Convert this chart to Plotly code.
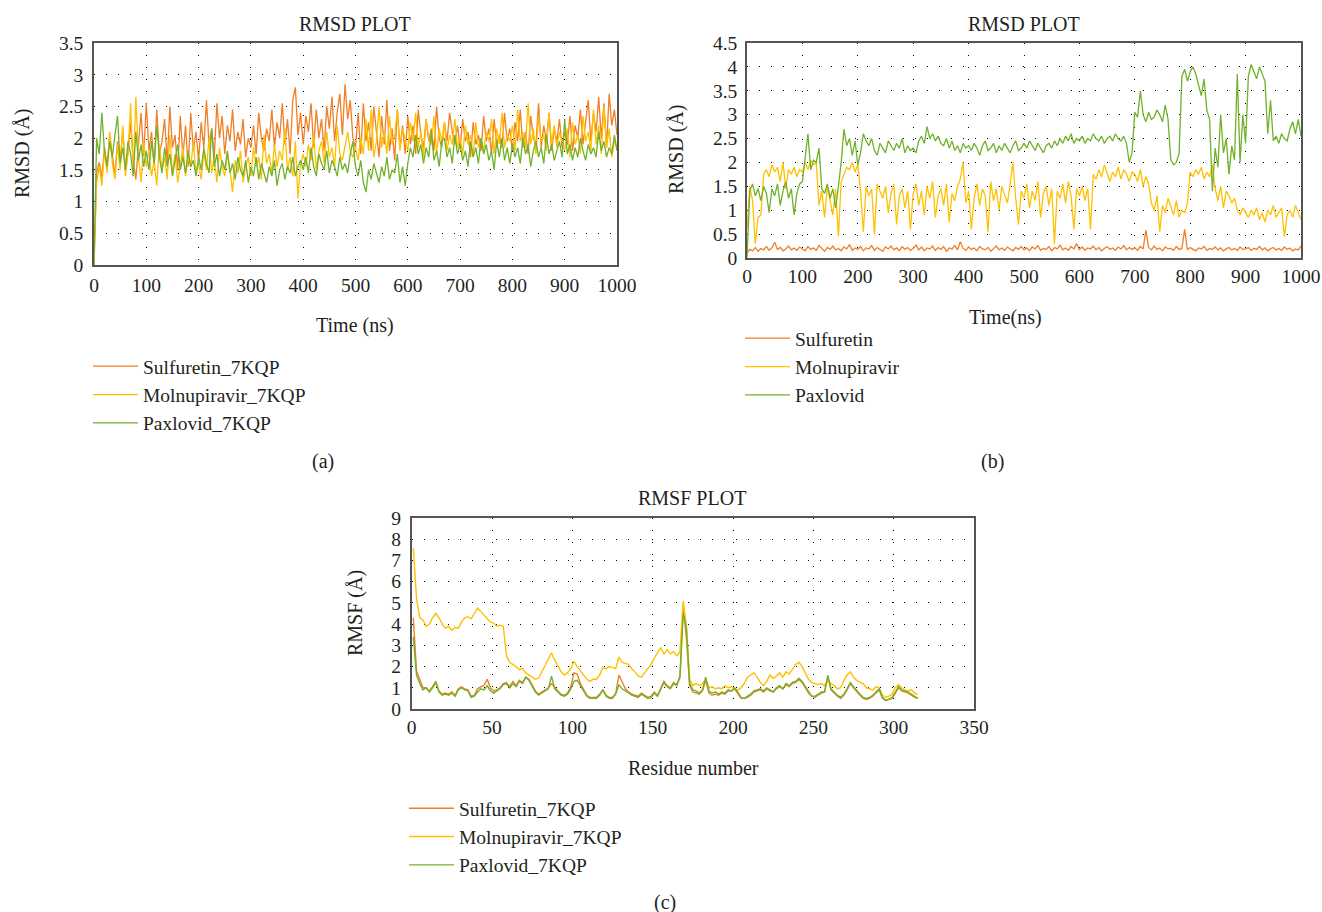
import plotly.graph_objects as go

# ---------------- data ----------------
time_ns = list(range(0, 1001, 5))

# (a) RMSD vs 7KQP
rmsd_a_sulfuretin = [
    0.00, 1.45, 1.62, 1.38, 1.85, 1.55, 2.05, 1.70, 1.42, 1.95, 1.60, 2.15, 1.48, 1.78, 2.25, 1.65, 1.35, 1.90, 2.40, 1.72,
    2.55, 1.80, 2.10, 1.55, 2.45, 1.75, 1.95, 2.30, 1.60, 2.50, 1.85, 2.05, 1.50, 2.35, 1.70, 2.20, 1.55, 2.40, 1.80, 2.10,
    1.65, 2.25, 1.85, 2.60, 1.90, 2.15, 1.70, 2.55, 2.00, 2.35, 1.75, 2.20, 1.95, 2.45, 1.80, 2.10, 1.90, 2.30, 1.70, 2.00,
    1.85, 2.20, 1.75, 2.40, 2.00, 1.80, 2.15, 1.95, 2.45, 1.85, 2.25, 2.00, 2.55, 1.90, 2.30, 1.75, 2.60, 2.80, 2.05, 2.40,
    1.90, 2.35, 2.10, 2.55, 1.85, 2.45, 2.00, 2.30, 1.80, 2.50, 2.15, 2.65, 1.95, 2.40, 2.70, 2.05, 2.85, 2.30, 2.60, 2.00,
    1.85, 2.40, 1.75, 2.55, 1.95, 2.25, 1.80, 2.50, 2.05, 1.70, 2.35, 1.90, 2.60, 1.80, 2.15, 1.65, 2.45, 1.85, 2.20, 1.75,
    2.35, 1.90, 2.20, 1.75, 2.45, 2.05, 1.85, 2.30, 1.95, 2.15, 1.80, 2.50, 2.00, 1.85, 2.25, 1.95, 2.40, 2.10, 1.90, 2.20,
    1.85, 2.30, 1.95, 2.10, 1.70, 2.25, 1.90, 2.05, 1.80, 2.35, 1.95, 2.15, 1.75, 2.30, 1.90, 2.05, 1.85, 2.40, 1.95, 2.15,
    1.80, 2.25, 1.95, 2.45, 1.85, 2.10, 1.75, 2.35, 2.00, 1.90, 2.55, 1.85, 2.20, 1.95, 2.40, 1.80, 2.15, 1.95, 2.30, 1.85,
    2.10, 1.90, 2.35, 1.80, 2.20, 2.00, 2.45, 1.90, 2.25, 2.60, 1.95, 2.40, 2.10, 2.65, 2.00, 2.55, 1.85, 2.70, 2.20, 2.45,
    2.05,
]
rmsd_a_molnupiravir = [
    0.00, 1.30, 1.55, 1.25, 1.80, 1.45, 2.10, 1.60, 1.35, 1.90, 1.50, 2.20, 1.40, 1.75, 2.55, 1.45, 2.65, 1.70, 1.30, 1.95,
    1.55, 1.80, 1.40, 1.65, 1.25, 1.90, 1.50, 1.70, 1.35, 2.05, 1.45, 1.75, 1.30, 1.60, 1.85, 1.40, 1.70, 1.55, 1.95, 1.45,
    1.60, 1.35, 1.80, 1.50, 2.00, 1.45, 1.70, 1.30, 1.85, 1.55, 1.40, 1.75, 1.50, 1.15, 1.65, 1.45, 1.80, 1.30, 1.55, 1.70,
    1.40, 1.85, 1.55, 1.70, 1.35, 2.05, 1.60, 1.75, 1.45, 1.90, 1.55, 1.80, 1.65, 2.15, 1.50, 1.70, 1.40, 1.95, 1.05, 1.60,
    1.75, 1.55, 1.90, 1.65, 2.05, 1.50, 1.80, 1.95, 1.60, 2.10, 1.70, 1.85, 1.55, 2.20, 1.75, 1.65, 1.90, 2.10, 1.80, 1.70,
    1.85, 1.65, 2.00, 1.75, 2.30, 1.80, 2.45, 1.70, 1.95, 2.50, 1.85, 2.10, 1.75, 2.35, 1.90, 2.05, 2.45, 1.80, 2.15, 1.95,
    1.80, 2.25, 1.95, 2.40, 1.85, 2.10, 1.70, 2.30, 2.00, 1.90, 2.35, 1.75, 2.15, 1.95, 2.25, 1.80, 2.05, 1.90, 2.30, 1.85,
    2.00, 1.75, 2.20, 1.90, 2.05, 1.70, 2.25, 1.85, 2.00, 1.80, 2.10, 1.95, 2.30, 1.75, 2.15, 1.90, 2.40, 1.85, 2.05, 1.95,
    2.20, 1.80, 2.45, 1.95, 2.10, 1.85, 2.55, 1.90, 2.15, 1.75, 2.35, 1.95, 2.05, 1.80, 2.40, 1.90, 2.20, 1.85, 2.10, 1.95,
    1.80, 2.15, 1.70, 2.25, 1.90, 2.05, 1.75, 2.35, 1.95, 2.10, 1.80, 2.45, 1.90, 2.20, 1.75, 2.50, 1.85, 2.15, 1.70, 1.95,
    1.85,
]
rmsd_a_paxlovid = [
    0.00, 2.00, 1.75, 2.40, 1.80, 1.55, 1.95, 1.70, 2.05, 2.35, 1.60, 1.85, 1.50, 1.95, 1.75, 1.40, 2.10, 1.65, 1.90, 1.55,
    1.80, 1.50, 1.95, 1.60, 2.20, 1.70, 1.45, 1.85, 1.55, 1.75, 1.40, 1.65, 1.90, 1.50, 1.70, 1.45, 1.80, 1.55, 1.65, 1.40,
    1.70, 1.50, 1.85, 1.60, 1.45, 2.15, 1.55, 1.75, 1.40, 1.65, 1.50, 1.80, 1.45, 1.60, 1.35, 1.70, 1.50, 1.40, 1.65, 1.30,
    1.55, 1.40, 1.70, 1.35, 1.60, 1.45, 1.30, 1.55, 1.40, 1.65, 1.25, 1.50, 1.60, 1.35, 1.55, 1.45, 1.70, 1.40, 1.55, 1.65,
    1.50, 1.70, 1.45, 1.85, 1.55, 1.40, 1.75, 1.60, 1.50, 1.80, 1.45, 1.65, 1.55, 1.40, 1.70, 1.50, 1.60, 1.45, 1.75, 1.95,
    1.55, 1.40, 1.65, 1.30, 1.15, 1.50, 1.35, 1.60, 1.45, 1.30, 1.55, 1.40, 1.70, 1.35, 1.50, 1.45, 1.75, 1.30, 1.55, 1.25,
    1.60, 1.85, 1.70, 2.05, 1.75, 1.90, 1.60, 1.85, 1.70, 2.10, 1.65, 1.80, 1.55, 1.95, 2.00, 1.70, 1.85, 1.60, 2.05, 1.75,
    1.90, 1.65, 1.80, 1.55, 1.95, 1.70, 1.85, 1.60, 2.00, 1.75, 1.90, 1.65, 1.80, 1.50, 1.95, 1.70, 2.00, 1.65, 1.85, 1.60,
    1.90, 1.70, 1.85, 1.60, 2.00, 1.75, 1.90, 1.55, 1.80, 1.95, 1.70, 1.85, 1.60, 2.05, 1.75, 1.90, 1.65, 1.80, 1.95, 1.70,
    2.30, 1.75, 1.90, 1.65, 1.85, 1.70, 2.00, 1.80, 1.65, 1.90, 1.75, 1.85, 1.70, 2.10, 1.80, 1.95, 1.70, 1.85, 1.75, 2.05,
    1.80,
]

# (b) RMSD
rmsd_b_sulfuretin = [
    0.10, 0.18, 0.15, 0.22, 0.14, 0.20, 0.17, 0.24, 0.16, 0.21, 0.33, 0.18, 0.22, 0.15, 0.19, 0.25, 0.17, 0.21, 0.16, 0.23,
    0.19, 0.15, 0.24, 0.18, 0.21, 0.16, 0.26, 0.19, 0.14, 0.22, 0.18, 0.25, 0.17, 0.20, 0.15, 0.23, 0.19, 0.28, 0.16, 0.21,
    0.18, 0.24, 0.15, 0.21, 0.19, 0.26, 0.16, 0.22, 0.18, 0.14, 0.23, 0.19, 0.25, 0.17, 0.21, 0.15, 0.24, 0.18, 0.22, 0.16,
    0.20, 0.27, 0.17, 0.23, 0.15, 0.21, 0.19, 0.25, 0.16, 0.22, 0.18, 0.24, 0.14, 0.21, 0.19, 0.26, 0.17, 0.34, 0.20, 0.16,
    0.23, 0.18, 0.21, 0.15, 0.24, 0.19, 0.17, 0.22, 0.14, 0.20, 0.25, 0.17, 0.21, 0.16, 0.23, 0.19, 0.15, 0.22, 0.18, 0.24,
    0.17, 0.21, 0.15, 0.23, 0.19, 0.26, 0.16, 0.20, 0.18, 0.24, 0.15, 0.22, 0.19, 0.27, 0.17, 0.21, 0.16, 0.24, 0.19, 0.30,
    0.18, 0.23, 0.16, 0.21, 0.19, 0.25, 0.17, 0.22, 0.15, 0.20, 0.24, 0.18, 0.21, 0.16, 0.23, 0.19, 0.26, 0.17, 0.22, 0.18,
    0.21, 0.16, 0.24, 0.19, 0.58, 0.22, 0.17, 0.25, 0.18, 0.21, 0.15, 0.23, 0.19, 0.20, 0.16, 0.24, 0.18, 0.20, 0.60, 0.17,
    0.22, 0.18, 0.15, 0.21, 0.19, 0.24, 0.16, 0.20, 0.18, 0.23, 0.17, 0.21, 0.15, 0.19, 0.22, 0.17, 0.20, 0.16, 0.23, 0.18,
    0.19, 0.22, 0.16, 0.20, 0.18, 0.24, 0.17, 0.21, 0.15, 0.19, 0.22, 0.17, 0.20, 0.16, 0.23, 0.18, 0.21, 0.15, 0.19, 0.17,
    0.25,
]
rmsd_b_molnupiravir = [
    0.60, 1.50, 1.20, 0.30, 0.85, 0.90, 1.75, 1.85, 1.70, 1.95, 1.80, 1.90, 1.60, 2.00, 1.45, 1.85, 1.75, 1.90, 1.70, 1.85,
    1.80, 2.00, 1.85, 2.05, 1.95, 2.00, 1.10, 1.40, 0.85, 1.50, 1.20, 0.90, 1.45, 0.45, 1.60, 1.75, 1.90, 1.85, 2.00, 1.80,
    1.95, 1.40, 0.55, 1.50, 1.30, 1.45, 0.50, 1.55, 1.40, 1.25, 1.50, 0.95, 1.35, 1.55, 0.70, 1.30, 1.45, 1.05, 1.40, 0.60,
    1.35, 1.55, 1.10, 1.40, 0.90, 1.50, 1.25, 1.60, 0.85, 1.30, 1.45, 1.10, 1.55, 0.75, 1.35, 1.20, 1.50, 1.65, 2.00, 1.15,
    1.40, 0.60, 1.25, 1.55, 1.10, 1.45, 1.30, 0.55, 1.60, 1.20, 1.45, 1.00, 1.50, 1.30, 1.15, 1.55, 2.00, 1.25, 0.70, 1.40,
    1.25, 1.55, 1.05, 1.40, 1.20, 1.60, 0.85, 1.35, 1.50, 1.10, 1.45, 0.30, 1.40, 1.25, 1.55, 1.15, 1.60, 1.30, 0.60, 1.45,
    1.30, 1.50, 1.20, 1.45, 0.60, 1.75, 1.65, 1.85, 1.70, 1.95, 1.75, 1.60, 1.80, 1.70, 1.90, 1.65, 1.85, 1.75, 1.60, 1.80,
    1.75, 1.60, 1.85, 1.50, 1.70, 1.55, 1.15, 1.00, 1.30, 0.55, 1.10, 0.95, 1.25, 1.05, 0.90, 1.20, 0.85, 1.00, 0.95, 1.15,
    1.80, 1.70, 1.85, 1.75, 1.90, 1.65, 1.80, 1.70, 1.95, 1.45, 1.20, 1.50, 1.05, 1.40, 1.30, 1.15, 1.25, 1.00, 0.90, 1.05,
    0.95, 0.85, 1.00, 0.90, 1.05, 0.80, 0.95, 0.75, 1.00, 0.90, 1.10, 0.85, 0.95, 1.05, 0.45, 0.90, 1.00, 0.85, 1.10, 0.95,
    0.80,
]
rmsd_b_paxlovid = [
    0.00, 1.40, 1.55, 1.30, 1.45, 1.20, 1.50, 1.35, 0.95, 1.45, 1.30, 1.55, 1.10, 1.40, 1.60, 1.25, 1.45, 0.90, 1.35, 1.55,
    1.60, 2.10, 2.60, 1.85, 2.05, 2.00, 2.30, 1.45, 1.35, 1.55, 1.25, 1.45, 1.05, 1.50, 2.00, 2.70, 2.35, 2.50, 2.15, 2.45,
    1.95, 2.20, 2.60, 2.45, 2.35, 2.50, 2.25, 2.15, 2.40, 2.30, 2.20, 2.45, 2.35, 2.25, 2.40, 2.30, 2.50, 2.20, 2.35, 2.25,
    2.30, 2.20, 2.45, 2.55, 2.40, 2.75, 2.50, 2.60, 2.45, 2.55, 2.40, 2.35, 2.50, 2.30, 2.45, 2.25, 2.35, 2.20, 2.40, 2.30,
    2.35, 2.25, 2.40, 2.30, 2.15, 2.35, 2.45, 2.25, 2.30, 2.40, 2.20, 2.35, 2.25, 2.40, 2.30, 2.20, 2.35, 2.45, 2.25, 2.30,
    2.40, 2.30, 2.45, 2.35, 2.25, 2.40, 2.30, 2.20, 2.35, 2.40, 2.30, 2.45, 2.35, 2.50, 2.40, 2.55, 2.45, 2.60, 2.40, 2.50,
    2.45, 2.55, 2.40, 2.50, 2.45, 2.60, 2.50, 2.45, 2.55, 2.40, 2.50, 2.55, 2.45, 2.60, 2.50, 2.45, 2.55, 2.40, 2.00, 2.20,
    3.05, 2.95, 3.50, 3.00, 2.85, 3.05, 2.90, 2.95, 3.10, 3.00, 2.85, 3.20, 2.90, 2.05, 1.95, 2.00, 2.20, 3.80, 3.95, 3.70,
    3.90, 4.00, 3.85, 3.60, 3.40, 3.75, 3.10, 2.90, 1.40, 2.30, 1.90, 3.00, 2.20, 2.50, 1.75, 2.35, 2.05, 3.85, 2.00, 3.00,
    2.40, 3.80, 4.05, 3.90, 3.75, 4.00, 3.85, 3.70, 2.60, 3.30, 2.45, 2.55, 2.40, 2.60, 2.50, 2.45, 2.70, 2.85, 2.60, 2.90,
    2.55,
]

# (c) RMSF (odd residues 1..315)
residue = list(range(1, 316, 2))
rmsf_sulfuretin = [
    4.3, 1.8, 1.4, 1.0, 1.0, 0.85, 1.05, 1.3, 0.85, 0.7, 0.75, 0.7, 0.8, 0.65, 0.95, 1.05, 0.95, 0.9, 0.6, 0.65,
    0.95, 1.05, 1.1, 1.4, 1.0, 0.85, 0.9, 1.0, 1.2, 1.25, 1.05, 1.3, 1.1, 1.35, 1.25, 1.5, 1.4, 1.15, 0.85, 0.7,
    0.8, 0.9, 1.0, 1.2, 1.0, 0.85, 0.7, 0.65, 0.75, 1.05, 1.7, 1.65, 1.2, 0.9, 0.65, 0.55, 0.55, 0.55, 0.7, 0.9,
    0.65, 0.55, 0.55, 0.75, 1.6, 1.3, 0.95, 0.8, 0.7, 0.65, 0.6, 0.75, 0.65, 0.55, 0.6, 0.8, 0.65, 1.0, 1.3, 1.1,
    1.0, 1.25, 1.15, 1.55, 4.9, 3.3, 1.1, 0.8, 0.75, 0.7, 0.85, 1.35, 0.75, 0.65, 0.7, 0.65, 0.75, 0.7, 0.85, 0.85,
    0.95, 0.75, 0.5, 0.5, 0.55, 0.65, 0.8, 0.85, 0.9, 0.8, 0.95, 0.85, 0.8, 0.95, 1.05, 0.95, 1.15, 1.05, 1.2, 1.25,
    1.4, 1.25, 1.0, 0.75, 0.6, 0.55, 0.65, 0.75, 0.8, 1.5, 0.9, 0.75, 0.6, 0.5, 0.65, 0.9, 1.2, 1.0, 0.8, 0.65,
    0.5, 0.45, 0.5, 0.6, 0.75, 0.9, 0.5, 0.4, 0.45, 0.5, 0.75, 1.0, 0.85, 0.8, 0.75, 0.65, 0.55, 0.5,
]
rmsf_molnupiravir = [
    7.6, 5.2, 4.3, 4.2, 3.9, 4.0, 4.3, 4.5, 4.3, 4.0, 3.8, 3.9, 3.7, 3.85, 3.8, 4.1, 4.3, 4.35, 4.25, 4.5,
    4.75, 4.6, 4.4, 4.25, 4.1, 4.05, 3.9, 3.95, 3.9, 2.5, 2.2, 2.1, 2.0, 1.85, 1.9, 1.7, 1.6, 1.5, 1.4, 1.45,
    1.75, 2.0, 2.3, 2.65, 2.3, 2.0, 1.75, 1.6, 1.7, 1.9, 2.25, 2.0, 1.8, 1.55, 1.4, 1.3, 1.4, 1.4, 1.6, 1.95,
    1.9, 2.0, 1.95, 1.9, 2.45, 2.2, 2.15, 2.1, 1.9, 1.75, 1.55, 1.5, 1.7, 1.9, 2.1, 2.4, 2.65, 2.9, 2.6, 2.8,
    2.6, 2.7, 2.5, 2.7, 5.1, 3.9, 1.4, 1.1, 1.2, 1.1, 1.2, 1.4, 1.0, 1.05, 0.95, 1.0, 0.95, 1.1, 1.0, 1.05,
    0.95, 0.9, 1.0, 1.2, 1.5, 1.6, 1.7, 1.5, 1.25, 1.1, 1.3, 1.6, 1.45, 1.55, 1.7, 1.5, 1.75, 1.65, 1.9, 2.1,
    2.2, 2.0, 1.7, 1.4, 1.25, 1.2, 1.15, 1.2, 1.1, 1.4, 1.2, 1.1, 0.95, 1.0, 1.35, 1.6, 1.75, 1.5, 1.35, 1.25,
    1.2, 1.0, 0.95, 0.9, 1.05, 1.0, 0.65, 0.55, 0.6, 0.7, 1.0, 1.15, 1.0, 0.9, 0.85, 0.9, 0.75, 0.7,
]
rmsf_paxlovid = [
    3.4, 1.6, 1.2, 0.9, 1.0, 0.8, 1.0, 1.25, 0.8, 0.65, 0.7, 0.65, 0.75, 0.6, 0.9, 1.0, 0.9, 0.85, 0.55, 0.6,
    0.8, 0.95, 0.9, 1.1, 0.85, 0.75, 0.85, 0.95, 1.15, 1.2, 1.0, 1.2, 1.05, 1.3, 1.2, 1.5, 1.35, 1.1, 0.8, 0.65,
    0.75, 0.85, 0.95, 1.55, 0.95, 0.8, 0.65, 0.6, 0.7, 0.95, 1.3, 1.35, 1.1, 0.85, 0.6, 0.5, 0.5, 0.5, 0.65, 0.9,
    0.6, 0.5, 0.5, 0.7, 1.15, 0.95, 0.85, 0.75, 0.65, 0.6, 0.55, 0.7, 0.6, 0.5, 0.55, 0.75, 0.6, 0.95, 1.25, 1.05,
    0.95, 1.2, 1.1, 1.5, 4.5, 3.8, 1.2, 0.9, 0.85, 0.75, 0.9, 1.5, 0.85, 0.75, 0.8, 0.7, 0.8, 0.75, 0.9, 0.85,
    1.0, 0.8, 0.55, 0.5, 0.6, 0.7, 0.85, 0.9, 0.95, 0.85, 1.0, 0.9, 0.8, 1.0, 1.1, 0.95, 1.2, 1.1, 1.25, 1.3,
    1.45, 1.3, 1.05, 0.8, 0.6, 0.6, 0.7, 0.8, 0.8, 1.6, 0.95, 0.8, 0.65, 0.55, 0.7, 0.95, 1.25, 1.05, 0.85, 0.7,
    0.55, 0.5, 0.55, 0.65, 0.8, 0.95, 0.55, 0.4, 0.45, 0.55, 0.8, 1.05, 0.9, 0.85, 0.8, 0.7, 0.6, 0.5,
]

names_a = ["Sulfuretin_7KQP", "Molnupiravir_7KQP", "Paxlovid_7KQP"]
names_b = ["Sulfuretin", "Molnupiravir", "Paxlovid"]
names_c = ["Sulfuretin_7KQP", "Molnupiravir_7KQP", "Paxlovid_7KQP"]

# ---------------- style ----------------
W, H = 1322, 912
COLORS = ["#F07F26", "#FFC000", "#72B12A"]
FONT = "Liberation Serif"
TXT = "#231F20"


def px(x):
    return x / W


def py(y):
    return 1 - y / H


fig = go.Figure()

series_a = [rmsd_a_sulfuretin, rmsd_a_molnupiravir, rmsd_a_paxlovid]
series_b = [rmsd_b_sulfuretin, rmsd_b_molnupiravir, rmsd_b_paxlovid]
series_c = [rmsf_sulfuretin, rmsf_molnupiravir, rmsf_paxlovid]

for i, (nm, ys) in enumerate(zip(names_a, series_a)):
    fig.add_trace(go.Scatter(x=time_ns, y=ys, mode="lines", name=nm,
                             line=dict(color=COLORS[i], width=1.3),
                             xaxis="x", yaxis="y", legend="legend"))
for i, (nm, ys) in enumerate(zip(names_b, series_b)):
    fig.add_trace(go.Scatter(x=time_ns, y=ys, mode="lines", name=nm,
                             line=dict(color=COLORS[i], width=1.3),
                             xaxis="x2", yaxis="y2", legend="legend2"))
for i, (nm, ys) in enumerate(zip(names_c, series_c)):
    fig.add_trace(go.Scatter(x=residue, y=ys, mode="lines", name=nm,
                             line=dict(color=COLORS[i], width=1.4),
                             xaxis="x3", yaxis="y3", legend="legend3"))

tickfont = dict(family=FONT, size=19.5, color=TXT)
grid = dict(showgrid=True, gridcolor="#000000", gridwidth=1, griddash="1px,11px",
            showline=True, linecolor="#555555", linewidth=1.5, mirror=True,
            zeroline=False, tickfont=tickfont, ticks="outside",
            tickcolor="rgba(0,0,0,0)")

fig.update_layout(
    width=W, height=H, margin=dict(l=0, r=0, t=0, b=0, autoexpand=False),
    paper_bgcolor="white", plot_bgcolor="white",
    font=dict(family=FONT, size=19, color=TXT),
    xaxis=dict(domain=[px(94), px(617)], range=[0, 1000], dtick=100, anchor="y", ticklen=2, **grid),
    yaxis=dict(domain=[py(265), py(43)], range=[0, 3.5], dtick=0.5, anchor="x", ticklen=5, **grid),
    xaxis2=dict(domain=[px(747), px(1301)], range=[0, 1000], dtick=100, anchor="y2", ticklen=0, **grid),
    yaxis2=dict(domain=[py(258), py(43)], range=[0, 4.5], dtick=0.5, anchor="x2", ticklen=4, **grid),
    xaxis3=dict(domain=[px(411.7), px(974)], range=[0, 350], dtick=50, anchor="y3", ticklen=0, **grid),
    yaxis3=dict(domain=[py(709), py(518)], range=[0, 9], dtick=1, anchor="x3", ticklen=5, **grid),
)

leg_common = dict(xanchor="left", yanchor="top", bgcolor="rgba(0,0,0,0)",
                  font=dict(family=FONT, size=19.5, color=TXT),
                  itemwidth=45, traceorder="normal")
fig.update_layout(
    legend=dict(x=px(88), y=py(347), **leg_common),
    legend2=dict(x=px(740), y=py(319), **leg_common),
    legend3=dict(x=px(404), y=py(789), **leg_common),
)

annots = [
    ("RMSD PLOT", 355, 24, 0),
    ("RMSD PLOT", 1024, 24, 0),
    ("RMSF PLOT", 692, 498, 0),
    ("Time (ns)", 355, 325, 0),
    ("Time(ns)", 1005, 318, 0),
    ("Residue number", 693, 768, 0),
    ("RMSD (Å)", 22, 154, -90),
    ("RMSD (Å)", 676, 150, -90),
    ("RMSF (Å)", 355, 613, -90),
    ("(a)", 323, 461, 0),
    ("(b)", 992, 461, 0),
    ("(c)", 665, 902, 0),
]
for text, x, y, ang in annots:
    fig.add_annotation(text=text, x=px(x), y=py(y), xref="paper", yref="paper",
                       showarrow=False, textangle=ang, xanchor="center", yanchor="middle",
                       font=dict(family=FONT, size=20, color=TXT))

fig.write_html("out.html")
